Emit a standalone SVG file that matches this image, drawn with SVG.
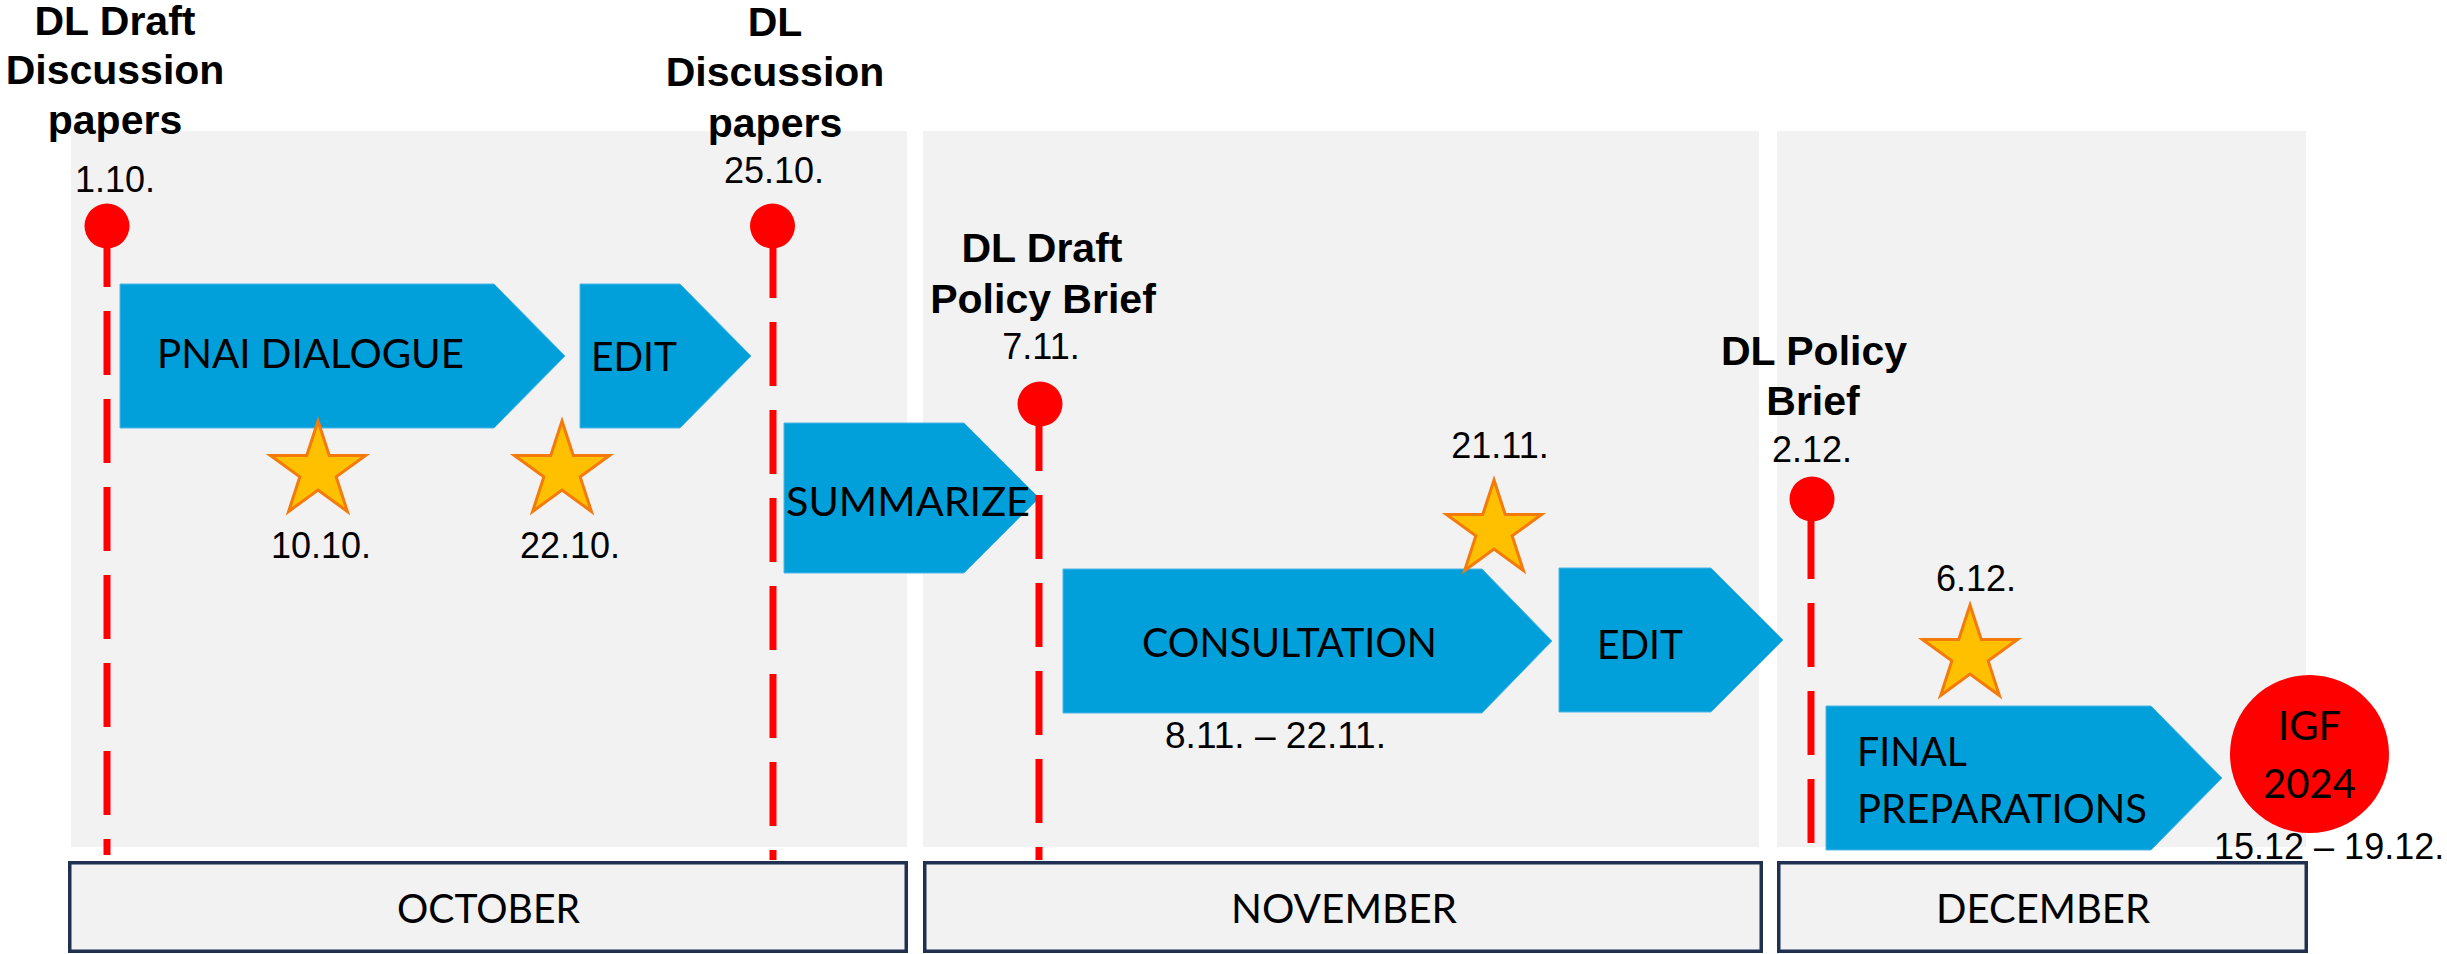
<svg xmlns="http://www.w3.org/2000/svg" width="2447" height="954" viewBox="0 0 2447 954">
<style>
.panel{fill:#F2F2F2}
.month{fill:#F2F2F2;stroke:#1F3050;stroke-width:3.5}
.arrow{fill:#02A0DA;stroke:#4DB6E6;stroke-width:1}
.star{fill:#FFC000;stroke:#F47A0A;stroke-width:3;stroke-linejoin:miter}
.pin{fill:#FF0000}
.pinline{stroke:#FF0000;stroke-width:7;stroke-dasharray:64 24;fill:none}
.title{font-family:"Liberation Sans",Arial,sans-serif;font-weight:bold;font-size:41px;fill:#000;text-anchor:middle}
.date{font-family:"Liberation Sans",Arial,sans-serif;font-size:36px;fill:#000}
.mid{text-anchor:middle}
.body{font-family:Lato,"Open Sans",sans-serif;font-size:40px;fill:#000}
</style>
<defs>
<polygon id="star5" points="0,-50 11.23,-15.45 47.55,-15.45 18.17,5.9 29.39,40.45 0,19.1 -29.39,40.45 -18.17,5.9 -47.55,-15.45 -11.23,-15.45"/>
</defs>

<g id="panels">
<rect class="panel" x="71" y="131" width="836" height="716"/>
<rect class="panel" x="923" y="131" width="836" height="716"/>
<rect class="panel" x="1777" y="131" width="529" height="716"/>
</g>

<g id="month-october">
<rect class="month" x="69.75" y="862.75" width="836.5" height="88.5"/>
<text class="body" x="397" y="923" textLength="183" lengthAdjust="spacingAndGlyphs">OCTOBER</text>
</g>
<g id="month-november">
<rect class="month" x="924.75" y="862.75" width="836.5" height="88.5"/>
<text class="body" x="1231" y="923" textLength="226" lengthAdjust="spacingAndGlyphs">NOVEMBER</text>
</g>
<g id="month-december">
<rect class="month" x="1778.75" y="862.75" width="527.5" height="88.5"/>
<text class="body" x="1936" y="923" textLength="214" lengthAdjust="spacingAndGlyphs">DECEMBER</text>
</g>

<g id="phase-pnai-dialogue">
<polygon class="arrow" points="120,284 494,284 565,356 494,428 120,428"/>
<text class="body" x="157" y="368" textLength="307" lengthAdjust="spacingAndGlyphs">PNAI DIALOGUE</text>
</g>
<g id="phase-edit-1">
<polygon class="arrow" points="580,284 680,284 751,356 680,428 580,428"/>
<text class="body" x="591" y="371" textLength="86" lengthAdjust="spacingAndGlyphs">EDIT</text>
</g>
<g id="phase-summarize">
<polygon class="arrow" points="784,423 964,423 1039,498 964,573 784,573"/>
<text class="body" x="786" y="516" textLength="244" lengthAdjust="spacingAndGlyphs">SUMMARIZE</text>
</g>
<g id="phase-consultation">
<polygon class="arrow" points="1063,569 1482,569 1552,641 1482,713 1063,713"/>
<text class="body" x="1142" y="657" textLength="295" lengthAdjust="spacingAndGlyphs">CONSULTATION</text>
<text class="date" x="1165" y="748" textLength="221" lengthAdjust="spacingAndGlyphs">8.11. – 22.11.</text>
</g>
<g id="phase-edit-2">
<polygon class="arrow" points="1559,568 1711,568 1783,640 1711,712 1559,712"/>
<text class="body" x="1597" y="659" textLength="86" lengthAdjust="spacingAndGlyphs">EDIT</text>
</g>
<g id="phase-final-preparations">
<polygon class="arrow" points="1826,706 2151,706 2222,778 2151,850 1826,850"/>
<text class="body" x="1857" y="766" textLength="110" lengthAdjust="spacingAndGlyphs">FINAL</text>
<text class="body" x="1857" y="823" textLength="290" lengthAdjust="spacingAndGlyphs">PREPARATIONS</text>
</g>

<g id="star-10-10">
<use href="#star5" class="star" transform="translate(318,471)"/>
<text class="date mid" x="321" y="558">10.10.</text>
</g>
<g id="star-22-10">
<use href="#star5" class="star" transform="translate(562,471)"/>
<text class="date mid" x="570" y="558">22.10.</text>
</g>
<g id="star-21-11">
<use href="#star5" class="star" transform="translate(1494,530)"/>
<text class="date mid" x="1500" y="458">21.11.</text>
</g>
<g id="star-6-12">
<use href="#star5" class="star" transform="translate(1970,655)"/>
<text class="date mid" x="1976" y="591">6.12.</text>
</g>

<g id="connectors">
<line class="pinline" x1="107" y1="223" x2="107" y2="855"/>
<line class="pinline" x1="773" y1="234" x2="773" y2="860"/>
<line class="pinline" x1="1039" y1="407" x2="1039" y2="860"/>
<line class="pinline" x1="1811" y1="515" x2="1811" y2="858"/>
</g>

<g id="milestone-draft-discussion">
<circle class="pin" cx="107" cy="226" r="22.5"/>
<text class="title" x="115" y="35">DL Draft</text>
<text class="title" x="115" y="84">Discussion</text>
<text class="title" x="115" y="134">papers</text>
<text class="date mid" x="115" y="192">1.10.</text>
</g>
<g id="milestone-discussion">
<circle class="pin" cx="772.5" cy="226" r="22.5"/>
<text class="title" x="775" y="36">DL</text>
<text class="title" x="775" y="86">Discussion</text>
<text class="title" x="775" y="137">papers</text>
<text class="date mid" x="774" y="183">25.10.</text>
</g>
<g id="milestone-draft-policy">
<circle class="pin" cx="1040" cy="404" r="22.5"/>
<text class="title" x="1042" y="262">DL Draft</text>
<text class="title" x="1043" y="313">Policy Brief</text>
<text class="date mid" x="1041" y="359">7.11.</text>
</g>
<g id="milestone-policy">
<circle class="pin" cx="1812" cy="499" r="22.5"/>
<text class="title" x="1814" y="365">DL Policy</text>
<text class="title" x="1813" y="415">Brief</text>
<text class="date mid" x="1812" y="462">2.12.</text>
</g>

<g id="igf-2024">
<ellipse class="pin" cx="2309.5" cy="754" rx="79.5" ry="79"/>
<text class="body mid" x="2309.5" y="740">IGF</text>
<text class="body mid" x="2309.5" y="798">2024</text>
<text class="date" x="2214" y="859">15.12 – 19.12.</text>
</g>
</svg>
